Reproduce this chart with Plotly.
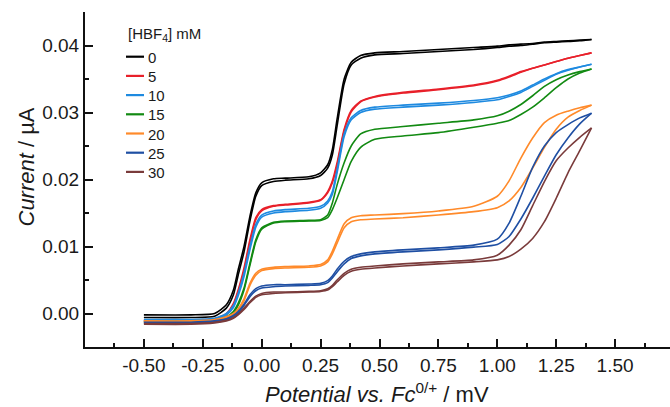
import plotly.graph_objects as go

# Potential grid (V vs Fc0/+)
potential = [-0.50, -0.30, -0.20, -0.15, -0.12, -0.10, -0.075, -0.05, -0.025, 0.00,
             0.05, 0.10, 0.20, 0.25, 0.28, 0.30, 0.32, 0.35, 0.38, 0.42,
             0.48, 0.60, 0.75, 0.90, 1.00, 1.05, 1.10, 1.15, 1.20, 1.25,
             1.30, 1.35, 1.40]

conc_labels = ["0", "5", "10", "15", "20", "25", "30"]

# forward / reverse sweeps, current
c0_fwd = [-0.0002, -0.0002, 0.0000, 0.0013, 0.0035, 0.0065, 0.0100, 0.0145, 0.0180, 0.0195,
          0.0201, 0.0202, 0.0204, 0.0210, 0.0222, 0.0245, 0.0290, 0.0350, 0.0375, 0.0385,
          0.0389, 0.0391, 0.0394, 0.0397, 0.0399, 0.0401, 0.0402, 0.0403, 0.0405, 0.0406,
          0.0407, 0.0408, 0.0409]
c0_rev = [-0.0006, -0.0006, -0.0004, 0.0008, 0.0028, 0.0057, 0.0092, 0.0138, 0.0175, 0.0191,
          0.0197, 0.0199, 0.0201, 0.0206, 0.0217, 0.0237, 0.0280, 0.0343, 0.0371, 0.0381,
          0.0386, 0.0388, 0.0391, 0.0394, 0.0397, 0.0399, 0.0400, 0.0402, 0.0404, 0.0405,
          0.0406, 0.0407, 0.0409]

c5_fwd = [-0.0010, -0.0010, -0.0008, 0.0000, 0.0015, 0.0035, 0.0068, 0.0110, 0.0143, 0.0155,
          0.0161, 0.0163, 0.0166, 0.0170, 0.0182, 0.0198, 0.0225, 0.0275, 0.0303, 0.0317,
          0.0324, 0.0330, 0.0335, 0.0341, 0.0348, 0.0354, 0.0361, 0.0366, 0.0371, 0.0376,
          0.0381, 0.0385, 0.0389]
c5_rev = [-0.0011, -0.0011, -0.0009, -0.0002, 0.0012, 0.0032, 0.0064, 0.0106, 0.0140, 0.0153,
          0.0160, 0.0162, 0.0165, 0.0169, 0.0180, 0.0195, 0.0221, 0.0272, 0.0301, 0.0316,
          0.0323, 0.0329, 0.0334, 0.0340, 0.0347, 0.0353, 0.0360, 0.0366, 0.0371, 0.0376,
          0.0381, 0.0385, 0.0389]

c10_fwd = [-0.0009, -0.0009, -0.0007, 0.0000, 0.0012, 0.0030, 0.0060, 0.0100, 0.0133, 0.0147,
           0.0153, 0.0155, 0.0157, 0.0160, 0.0168, 0.0182, 0.0215, 0.0268, 0.0292, 0.0303,
           0.0308, 0.0311, 0.0314, 0.0318, 0.0322, 0.0326, 0.0332, 0.0341, 0.0350, 0.0358,
           0.0364, 0.0368, 0.0372]
c10_rev = [-0.0011, -0.0011, -0.0009, -0.0002, 0.0009, 0.0026, 0.0055, 0.0095, 0.0129, 0.0144,
           0.0150, 0.0152, 0.0154, 0.0157, 0.0165, 0.0178, 0.0210, 0.0264, 0.0289, 0.0300,
           0.0305, 0.0308, 0.0311, 0.0315, 0.0319, 0.0324, 0.0330, 0.0339, 0.0348, 0.0357,
           0.0363, 0.0368, 0.0372]

c15_fwd = [-0.0012, -0.0012, -0.0010, -0.0005, 0.0003, 0.0015, 0.0038, 0.0075, 0.0110, 0.0128,
           0.0136, 0.0138, 0.0139, 0.0140, 0.0147, 0.0165, 0.0192, 0.0225, 0.0250, 0.0268,
           0.0275, 0.0279, 0.0284, 0.0289, 0.0295, 0.0302, 0.0312, 0.0325, 0.0339, 0.0349,
           0.0356, 0.0361, 0.0365]
c15_rev = [-0.0013, -0.0013, -0.0011, -0.0006, 0.0001, 0.0012, 0.0035, 0.0072, 0.0107, 0.0126,
           0.0135, 0.0137, 0.0138, 0.0139, 0.0143, 0.0155, 0.0172, 0.0200, 0.0227, 0.0248,
           0.0260, 0.0265, 0.0270, 0.0278, 0.0284, 0.0288, 0.0297, 0.0308, 0.0322, 0.0337,
           0.0350, 0.0359, 0.0365]

c20_fwd = [-0.0011, -0.0011, -0.0009, -0.0005, 0.0000, 0.0007, 0.0022, 0.0045, 0.0060, 0.0066,
           0.0069, 0.0070, 0.0071, 0.0073, 0.0080, 0.0093, 0.0110, 0.0134, 0.0143, 0.0146,
           0.0147, 0.0149, 0.0153, 0.0160, 0.0175, 0.0198, 0.0232, 0.0262, 0.0285, 0.0296,
           0.0302, 0.0307, 0.0311]
c20_rev = [-0.0012, -0.0012, -0.0010, -0.0006, -0.0001, 0.0005, 0.0019, 0.0042, 0.0057, 0.0064,
           0.0067, 0.0068, 0.0069, 0.0071, 0.0077, 0.0089, 0.0105, 0.0128, 0.0137, 0.0140,
           0.0141, 0.0143, 0.0147, 0.0152, 0.0158, 0.0168, 0.0188, 0.0217, 0.0248, 0.0275,
           0.0293, 0.0303, 0.0311]

c25_fwd = [-0.0013, -0.0013, -0.0011, -0.0008, -0.0003, 0.0003, 0.0014, 0.0028, 0.0037, 0.0041,
           0.0043, 0.0043, 0.0044, 0.0045, 0.0049, 0.0056, 0.0066, 0.0078, 0.0085, 0.0089,
           0.0092, 0.0095, 0.0098, 0.0102, 0.0111, 0.0135, 0.0175, 0.0218, 0.0250, 0.0270,
           0.0282, 0.0292, 0.0299]
c25_rev = [-0.0014, -0.0014, -0.0012, -0.0009, -0.0004, 0.0001, 0.0012, 0.0025, 0.0034, 0.0038,
           0.0040, 0.0041, 0.0042, 0.0043, 0.0046, 0.0053, 0.0062, 0.0074, 0.0082, 0.0086,
           0.0089, 0.0092, 0.0095, 0.0099, 0.0103, 0.0115, 0.0141, 0.0172, 0.0205, 0.0237,
           0.0262, 0.0283, 0.0299]

c30_fwd = [-0.0015, -0.0015, -0.0013, -0.0010, -0.0006, -0.0001, 0.0008, 0.0018, 0.0026, 0.0030,
           0.0032, 0.0032, 0.0033, 0.0034, 0.0037, 0.0042, 0.0050, 0.0060, 0.0066, 0.0069,
           0.0071, 0.0074, 0.0077, 0.0080, 0.0087, 0.0102, 0.0125, 0.0161, 0.0197, 0.0228,
           0.0247, 0.0263, 0.0277]
c30_rev = [-0.0016, -0.0016, -0.0014, -0.0011, -0.0007, -0.0002, 0.0006, 0.0016, 0.0024, 0.0028,
           0.0030, 0.0031, 0.0032, 0.0033, 0.0035, 0.0040, 0.0047, 0.0057, 0.0063, 0.0066,
           0.0068, 0.0071, 0.0074, 0.0077, 0.0080, 0.0085, 0.0096, 0.0112, 0.0137, 0.0172,
           0.0210, 0.0243, 0.0277]

forward = [c0_fwd, c5_fwd, c10_fwd, c15_fwd, c20_fwd, c25_fwd, c30_fwd]
reverse = [c0_rev, c5_rev, c10_rev, c15_rev, c20_rev, c25_rev, c30_rev]

colors = ["#000000", "#e8202a", "#1e8ae0", "#128a12", "#ff8a2a", "#1f4fa3", "#7a3b3b"]

x_tickvals = [-0.50, -0.25, 0.00, 0.25, 0.50, 0.75, 1.00, 1.25, 1.50]
x_ticktext = ["-0.50", "-0.25", "0.00", "0.25", "0.50", "0.75", "1.00", "1.25", "1.50"]
y_tickvals = [0.00, 0.01, 0.02, 0.03, 0.04]
y_ticktext = ["0.00", "0.01", "0.02", "0.03", "0.04"]

legend_title = "[HBF<sub>4</sub>] mM"

FONT = "Arial, Liberation Sans, sans-serif"
TXT = "#1a1a1a"

# plot-area geometry in pixels (used only for placing legend / titles)
L, R, T, B = 85, 670, 12, 347
def px_x(p):
    return (p - L) / (R - L)
def px_y(p):
    return (B - p) / (B - T)

fig = go.Figure()
for lab, f, r, c in zip(conc_labels, forward, reverse, colors):
    fig.add_trace(go.Scatter(x=potential, y=f, mode="lines", name=lab, legendgroup=lab,
                             showlegend=False,
                             line=dict(color=c, width=1.6, shape="spline", smoothing=0.6)))
    fig.add_trace(go.Scatter(x=potential, y=r, mode="lines", name=lab, legendgroup=lab,
                             showlegend=False,
                             line=dict(color=c, width=1.6, shape="spline", smoothing=0.6)))

# custom legend (short line samples like the original)
shapes = []
annotations = [
    dict(text=legend_title, xref="paper", yref="paper", x=px_x(126), y=px_y(34),
         xanchor="left", yanchor="middle", showarrow=False,
         font=dict(size=15, family=FONT, color=TXT)),
]
for i, (lab, c) in enumerate(zip(conc_labels, colors)):
    yy = 56.7 + 19.2 * i
    shapes.append(dict(type="line", xref="paper", yref="paper",
                       x0=px_x(126), x1=px_x(144), y0=px_y(yy), y1=px_y(yy),
                       line=dict(color=c, width=2.2)))
    annotations.append(dict(text=lab, xref="paper", yref="paper", x=px_x(145.5), y=px_y(yy + 0.5),
                            xanchor="left", yanchor="middle", showarrow=False,
                            font=dict(size=15, family=FONT, color=TXT)))

annotations += [
    dict(text="<i>Current</i> / µA", textangle=-90, xref="paper", yref="paper",
         x=px_x(26), y=px_y(167.5), xanchor="center", yanchor="middle",
         showarrow=False, font=dict(size=22, family=FONT, color=TXT)),
    dict(text="<i>Potential vs. Fc</i><sup>0/+</sup> / mV", xref="paper", yref="paper",
         x=px_x(377), y=px_y(393), xanchor="center", yanchor="middle",
         showarrow=False, font=dict(size=22, family=FONT, color=TXT)),
]

fig.update_layout(
    width=670, height=407,
    margin=dict(l=L, r=670 - R, t=T, b=407 - B),
    paper_bgcolor="white", plot_bgcolor="white",
    font=dict(family=FONT, color=TXT, size=19),
    showlegend=False,
    xaxis=dict(
        range=[-0.75, 1.733], showgrid=False, zeroline=False,
        showline=True, linecolor="#111111", linewidth=2,
        ticks="inside", ticklen=8, tickwidth=2, tickcolor="#111111",
        tickvals=x_tickvals, ticktext=x_ticktext,
        tickfont=dict(size=19, family=FONT, color=TXT),
        minor=dict(ticks="inside", ticklen=4, tickwidth=2, tickcolor="#111111", dtick=0.125, tick0=-0.75),
        ticklabelstandoff=0,
    ),
    yaxis=dict(
        range=[-0.005, 0.045], showgrid=False, zeroline=False,
        showline=True, linecolor="#111111", linewidth=2,
        ticks="inside", ticklen=8, tickwidth=2, tickcolor="#111111",
        tickvals=y_tickvals, ticktext=y_ticktext,
        tickfont=dict(size=19, family=FONT, color=TXT),
        minor=dict(ticks="inside", ticklen=4, tickwidth=2, tickcolor="#111111", dtick=0.005, tick0=-0.005),
        ticklabelstandoff=0,
    ),
    shapes=shapes,
    annotations=annotations,
)

fig.write_html("out.html", config={"displayModeBar": False},
               post_script="document.body.style.margin='0';document.body.style.overflow='hidden';")
